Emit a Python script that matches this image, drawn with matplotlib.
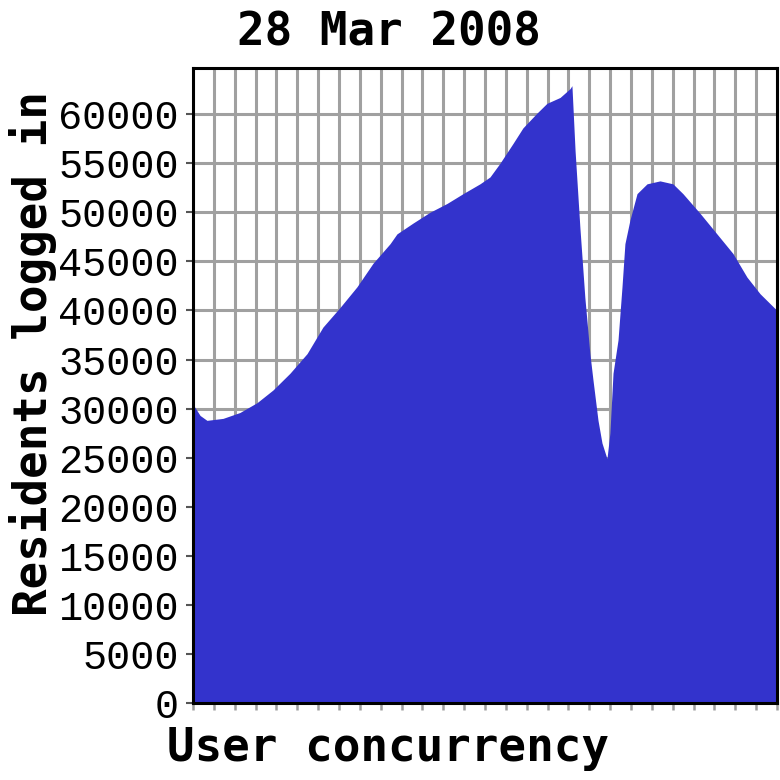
import matplotlib
matplotlib.use("Agg")
import matplotlib.pyplot as plt

# Datos (x en unidades de rejilla, 28 divisiones)
x_pos = [0.0, 0.1, 0.34, 0.67, 1.44, 2.25, 3.07, 3.84, 4.65, 5.47, 6.23, 7.05,
         7.86, 8.63, 9.45, 9.78, 10.55, 11.36, 12.18, 12.95, 13.76, 14.24,
         14.72, 15.34, 15.82, 16.49, 16.97, 17.60, 18.08, 18.17, 18.32, 18.55,
         18.79, 19.03, 19.18, 19.42, 19.61, 19.85, 19.99, 20.14, 20.38, 20.57,
         20.71, 20.95, 21.29, 21.77, 22.39, 23.01, 23.49, 24.31, 25.12, 25.89,
         26.56, 27.19, 28.0]
residents = [30400, 30100, 29300, 28800, 29000, 29600, 30600, 31900, 33600,
             35600, 38300, 40300, 42400, 44800, 46800, 47800, 48900, 50000,
             50900, 51900, 52900, 53600, 55000, 57000, 58600, 60100, 61100,
             61700, 62600, 62900, 56300, 48500, 41300, 35600, 32900, 28800,
             26500, 24900, 27500, 33600, 37000, 42400, 46800, 49200, 51900,
             52900, 53200, 52900, 51900, 49900, 47800, 45800, 43400, 41700,
             40000]
y_ticks = list(range(0, 60001, 5000))
x_ticks = list(range(0, 29))

title = "28 Mar 2008"
xlabel = "User concurrency"
ylabel = "Residents logged in"

fill_color = "#3333cc"
grid_color = "#a0a0a0"
bold_font = dict(family="DejaVu Sans Mono", weight="bold", size=33)

fig = plt.figure(figsize=(7.8, 7.8), dpi=100)
ax = fig.add_axes([0.2474, 0.0987, 0.7487, 0.8141])

ax.fill_between(x_pos, residents, 0, color=fill_color, linewidth=0, zorder=2)

ax.set_xlim(0, 28)
ax.set_ylim(0, 64700)
ax.set_xticks(x_ticks)
ax.set_xticklabels([])
ax.set_yticks(y_ticks)
ax.set_yticklabels([str(v) for v in y_ticks], family="Liberation Mono", size=29)

ax.grid(True, color=grid_color, linewidth=2.2, zorder=0)
ax.set_axisbelow(True)

ax.tick_params(axis="x", direction="out", length=5, width=1.8, color=grid_color)
ax.tick_params(axis="y", direction="out", length=5, width=1.5, color="#555555", pad=5)

for side in ax.spines.values():
    side.set_color("black")
    side.set_linewidth(2.2)
    side.set_zorder(3)

fig.text(0.499, 0.958, title, ha="center", va="center", **bold_font)
fig.text(0.497, 0.041, xlabel, ha="center", va="center", **bold_font)
fig.text(0.042, 0.547, ylabel, ha="center", va="center", rotation=90, **bold_font)

fig.savefig("out.png", dpi=100)
